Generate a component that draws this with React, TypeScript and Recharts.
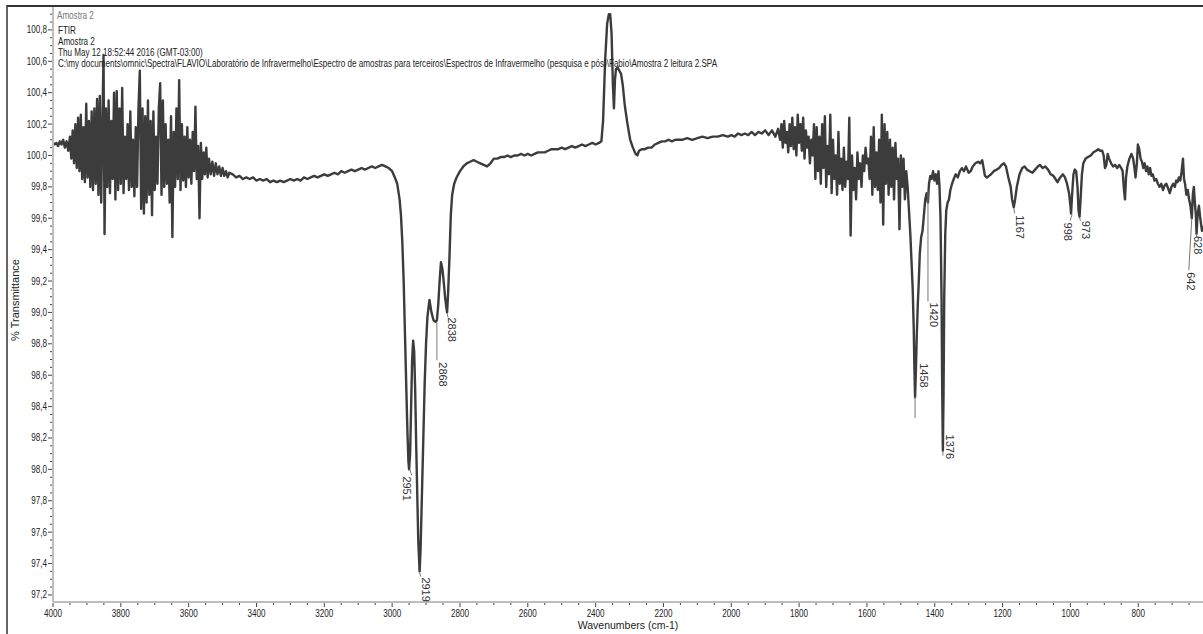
import React from "react";
import { LineChart, Line, XAxis, YAxis, ReferenceDot } from "recharts";

// FTIR spectrum as [wavenumber (cm-1), % transmittance]
const noisyHighRegion: [number, number][] = [
  [4000, 100.08], [3995, 100.07], [3990, 100.08], [3985, 100.06], [3980, 100.09], [3975, 100.07],
  [3970, 100.1], [3965, 100.05], [3960, 100.09], [3955, 100.03], [3950, 100.12], [3946, 99.98],
  [3942, 100.16], [3938, 99.95], [3934, 100.2], [3930, 99.92], [3926, 100.24], [3922, 99.9],
  [3918, 100.26], [3914, 99.85], [3910, 100.18], [3906, 99.83], [3902, 100.33], [3898, 99.86],
  [3894, 100.22], [3890, 99.8], [3886, 100.28], [3882, 99.78], [3878, 100.3], [3874, 99.82],
  [3870, 100.36], [3866, 99.75], [3862, 100.38], [3858, 99.7], [3854, 100.25], [3851, 100.64],
  [3848, 99.5], [3844, 100.3], [3840, 99.8], [3836, 100.35], [3832, 99.76], [3828, 100.22],
  [3824, 99.85], [3820, 100.4], [3816, 99.72], [3812, 100.41], [3808, 99.78], [3804, 100.3],
  [3800, 99.82], [3796, 100.43], [3792, 99.76], [3788, 100.12], [3784, 99.85], [3780, 100.2],
  [3776, 99.78], [3772, 100.28], [3768, 99.8], [3764, 100.1], [3760, 99.74], [3756, 100.18],
  [3752, 99.8], [3748, 100.3], [3744, 100.54], [3740, 99.66], [3736, 100.3], [3732, 99.63],
  [3728, 100.25], [3724, 99.7], [3720, 100.35], [3716, 99.75], [3712, 100.22], [3708, 99.62],
  [3704, 100.28], [3700, 99.78], [3696, 100.12], [3692, 99.82], [3688, 100.3], [3684, 100.46],
  [3680, 99.75], [3676, 100.35], [3672, 99.8], [3668, 100.2], [3664, 99.82], [3660, 100.1],
  [3656, 99.7], [3652, 100.25], [3648, 99.48], [3644, 100.15], [3640, 99.8], [3636, 100.3],
  [3632, 99.85], [3628, 100.48], [3624, 99.78], [3620, 100.2], [3616, 99.84], [3612, 100.12],
  [3608, 99.8], [3604, 100.18], [3600, 99.86], [3596, 100.1], [3592, 99.82], [3588, 100.15],
  [3584, 99.9], [3580, 100.31], [3576, 99.85], [3572, 100.06], [3568, 99.6], [3564, 100.08],
  [3560, 99.85], [3556, 100.02], [3552, 99.88], [3548, 100.05], [3544, 99.86], [3540, 99.98],
  [3535, 99.88], [3530, 99.96], [3525, 99.87], [3520, 99.95], [3515, 99.88], [3510, 99.93],
  [3505, 99.87], [3500, 99.92], [3495, 99.87], [3490, 99.9], [3485, 99.86], [3480, 99.89],
];

const baselineRegion: [number, number][] = [
  [3470, 99.88], [3460, 99.86], [3450, 99.87], [3440, 99.85], [3430, 99.86], [3420, 99.85],
  [3410, 99.86], [3400, 99.84], [3390, 99.85], [3380, 99.84], [3370, 99.85], [3360, 99.83],
  [3350, 99.84], [3340, 99.83], [3330, 99.84], [3320, 99.83], [3310, 99.84], [3300, 99.85],
  [3290, 99.84], [3280, 99.85], [3270, 99.84], [3260, 99.86], [3250, 99.85], [3240, 99.86],
  [3230, 99.87], [3220, 99.86], [3210, 99.87], [3200, 99.88], [3190, 99.87], [3180, 99.88],
  [3170, 99.89], [3160, 99.88], [3150, 99.9], [3140, 99.89], [3130, 99.9], [3120, 99.91],
  [3110, 99.9], [3100, 99.91], [3090, 99.92], [3080, 99.91], [3070, 99.92], [3060, 99.93],
  [3050, 99.92], [3040, 99.93], [3030, 99.94], [3020, 99.93], [3010, 99.92], [3000, 99.9],
  [2992, 99.86], [2985, 99.82], [2978, 99.72],
];

const chStretchRegion: [number, number][] = [
  [2974, 99.62], [2970, 99.45], [2966, 99.2], [2962, 98.85], [2958, 98.5], [2955, 98.25],
  [2952, 98.05], [2950, 98.0], [2947, 98.1], [2944, 98.4], [2941, 98.7], [2938, 98.82],
  [2935, 98.75], [2932, 98.5], [2929, 98.15], [2926, 97.85], [2923, 97.55], [2919, 97.35],
  [2916, 97.5], [2912, 97.85], [2908, 98.2], [2904, 98.55], [2900, 98.8], [2896, 98.97],
  [2890, 99.08], [2884, 99.0], [2878, 98.95], [2872, 98.94], [2868, 98.95], [2864, 99.05],
  [2860, 99.2], [2856, 99.32], [2852, 99.28], [2848, 99.2], [2844, 99.1], [2840, 99.03],
  [2838, 99.0], [2835, 99.12], [2831, 99.35], [2827, 99.62], [2823, 99.75], [2817, 99.82],
  [2810, 99.86], [2800, 99.9], [2790, 99.93], [2780, 99.95], [2770, 99.96], [2760, 99.97],
  [2750, 99.96], [2740, 99.95], [2730, 99.94], [2720, 99.93], [2710, 99.95], [2700, 99.98],
];

const co2Region: [number, number][] = [
  [2690, 99.98], [2680, 99.99], [2670, 99.99], [2660, 100.0], [2650, 99.99], [2640, 100.0],
  [2630, 100.0], [2620, 100.01], [2610, 100.0], [2600, 100.01], [2590, 100.0], [2580, 100.01],
  [2570, 100.02], [2560, 100.02], [2550, 100.02], [2540, 100.03], [2530, 100.04], [2520, 100.04],
  [2510, 100.04], [2500, 100.05], [2490, 100.04], [2480, 100.05], [2470, 100.06], [2460, 100.05],
  [2450, 100.06], [2440, 100.07], [2430, 100.06], [2420, 100.07], [2410, 100.08], [2400, 100.07],
  [2390, 100.08], [2383, 100.09], [2378, 100.22], [2372, 100.6], [2366, 100.84], [2361, 100.9],
  [2357, 100.9], [2353, 100.78], [2349, 100.45], [2346, 100.3], [2343, 100.48], [2340, 100.55],
  [2335, 100.56], [2330, 100.54], [2325, 100.52], [2320, 100.45], [2314, 100.32], [2306, 100.2],
  [2298, 100.1], [2290, 100.05], [2282, 100.01], [2277, 100.0], [2272, 100.03], [2264, 100.04],
  [2255, 100.04], [2245, 100.05], [2235, 100.05], [2225, 100.07], [2215, 100.08], [2205, 100.09],
  [2195, 100.09], [2185, 100.1], [2175, 100.09], [2165, 100.1], [2155, 100.1], [2145, 100.1],
  [2130, 100.11], [2115, 100.1], [2100, 100.11], [2085, 100.12], [2070, 100.11], [2055, 100.12],
  [2040, 100.12], [2025, 100.13], [2010, 100.12], [2000, 100.13], [1990, 100.12], [1980, 100.14],
  [1970, 100.13], [1960, 100.14], [1950, 100.13], [1940, 100.15], [1930, 100.13], [1920, 100.15],
  [1910, 100.14], [1900, 100.16], [1890, 100.13], [1880, 100.16], [1870, 100.12], [1862, 100.17],
];

const noisyMidRegion: [number, number][] = [
  [1856, 100.1], [1852, 100.2], [1848, 100.05], [1844, 100.22], [1840, 100.08], [1836, 100.15],
  [1832, 100.02], [1828, 100.2], [1824, 100.06], [1820, 100.24], [1816, 100.04], [1812, 100.18],
  [1808, 100.0], [1804, 100.26], [1800, 100.08], [1796, 100.2], [1792, 100.03], [1788, 100.24],
  [1784, 99.98], [1780, 100.16], [1776, 100.05], [1772, 100.12], [1768, 99.95], [1764, 100.1],
  [1760, 100.0], [1756, 100.2], [1752, 99.85], [1748, 100.18], [1744, 99.9], [1740, 100.12],
  [1736, 99.82], [1732, 100.2], [1728, 99.92], [1724, 100.25], [1720, 99.8], [1716, 100.06],
  [1712, 99.88], [1708, 100.26], [1704, 99.76], [1700, 100.1], [1696, 99.85], [1692, 100.0],
  [1688, 99.75], [1684, 100.15], [1680, 99.82], [1676, 99.98], [1672, 99.78], [1668, 100.05],
  [1664, 99.8], [1660, 99.96], [1656, 99.85], [1652, 100.24], [1648, 99.49], [1644, 100.0],
  [1640, 99.78], [1636, 99.92], [1632, 99.72], [1628, 100.02], [1624, 99.85], [1620, 99.95],
  [1616, 99.8], [1612, 100.0], [1608, 99.9], [1604, 100.05], [1600, 99.95], [1596, 99.98],
  [1592, 99.85], [1588, 100.12], [1584, 99.75], [1580, 100.18], [1576, 99.8], [1572, 100.02],
  [1568, 99.78], [1564, 100.1], [1560, 99.7], [1556, 100.26], [1552, 99.56], [1548, 100.2],
  [1544, 99.82], [1540, 100.15], [1536, 99.75], [1532, 100.1], [1528, 99.8], [1524, 100.05],
  [1520, 99.72], [1516, 100.08], [1512, 99.85], [1508, 99.98], [1504, 99.53], [1500, 100.0],
  [1496, 99.8], [1492, 99.98], [1488, 99.72], [1484, 99.9], [1480, 99.8],
];

const chBendRegion: [number, number][] = [
  [1476, 99.65], [1472, 99.5], [1468, 99.3], [1465, 99.15], [1462, 98.9], [1460, 98.65],
  [1458, 98.46], [1456, 98.6], [1453, 98.85], [1450, 99.05], [1447, 99.2], [1444, 99.38],
  [1440, 99.48], [1436, 99.52], [1432, 99.62], [1428, 99.72], [1424, 99.76], [1420, 99.7],
  [1417, 99.82], [1413, 99.87], [1409, 99.85], [1405, 99.9], [1401, 99.84], [1397, 99.88],
  [1393, 99.82], [1389, 99.9], [1386, 99.8], [1383, 99.6], [1380, 99.1], [1378, 98.5],
  [1376, 98.12], [1374, 98.5], [1372, 99.1], [1369, 99.5], [1366, 99.65], [1362, 99.7],
  [1358, 99.72], [1354, 99.78], [1349, 99.82], [1344, 99.85], [1338, 99.88], [1332, 99.86],
  [1326, 99.9], [1320, 99.92], [1314, 99.9], [1308, 99.93], [1300, 99.89], [1294, 99.9],
  [1288, 99.93], [1280, 99.95], [1272, 99.96], [1266, 99.95], [1260, 99.97], [1256, 99.92],
  [1252, 99.87], [1246, 99.86], [1240, 99.87], [1234, 99.88], [1226, 99.9],
];

const fingerprintRegion: [number, number][] = [
  [1217, 99.91], [1210, 99.92], [1203, 99.94], [1196, 99.95], [1190, 99.93], [1183, 99.86],
  [1176, 99.8], [1172, 99.72], [1167, 99.67], [1163, 99.72], [1158, 99.8], [1150, 99.88],
  [1142, 99.92], [1135, 99.93], [1128, 99.91], [1120, 99.9], [1112, 99.89], [1104, 99.91],
  [1096, 99.93], [1090, 99.94], [1082, 99.92], [1074, 99.93], [1066, 99.91], [1058, 99.88],
  [1050, 99.87], [1044, 99.85], [1038, 99.83], [1030, 99.86], [1022, 99.88], [1016, 99.86],
  [1010, 99.82], [1004, 99.76], [1000, 99.68], [998, 99.63], [995, 99.75], [991, 99.88],
  [987, 99.91], [983, 99.9], [979, 99.8], [976, 99.65], [973, 99.61], [970, 99.72],
  [966, 99.88], [962, 99.95], [955, 99.98], [948, 99.99], [940, 100.0], [932, 100.02],
  [924, 100.03], [918, 100.04], [912, 100.03], [906, 100.03], [902, 100.0], [898, 99.92],
  [894, 99.94], [890, 100.01], [886, 99.98], [880, 99.95], [874, 99.93], [868, 99.94],
  [862, 99.92], [856, 99.94], [850, 99.92], [846, 99.9], [842, 99.78], [839, 99.72],
  [836, 99.86], [832, 99.93], [826, 99.98], [820, 100.01], [815, 99.98], [811, 99.92],
  [808, 99.86], [804, 99.95], [801, 100.07], [797, 100.04], [793, 99.98], [789, 99.96],
  [785, 99.92], [781, 99.95], [777, 99.9], [773, 99.93], [769, 99.88], [765, 99.92],
  [761, 99.87], [757, 99.88], [752, 99.84], [747, 99.85], [742, 99.82], [737, 99.8],
  [732, 99.82], [727, 99.78], [722, 99.81], [717, 99.82], [712, 99.79], [707, 99.76],
  [702, 99.8], [697, 99.82], [692, 99.8], [688, 99.84], [684, 99.83], [680, 99.86],
  [676, 99.84], [672, 99.9], [668, 99.98], [665, 99.85], [662, 99.82], [658, 99.75],
  [654, 99.78], [650, 99.72], [646, 99.68], [642, 99.6], [639, 99.75], [636, 99.8],
  [633, 99.7], [630, 99.62], [628, 99.5], [625, 99.62], [621, 99.68], [617, 99.6],
  [612, 99.52], [609, 99.55],
];

// labelled peaks
const peakWavenumbers = [2951, 2919, 2868, 2838, 1458, 1420, 1376, 1167, 998, 973, 642, 628];
const peakTransmittance = [98.0, 97.35, 98.95, 99.0, 98.46, 99.7, 98.12, 99.67, 99.63, 99.61, 99.6, 99.5];

const xMajorTicks = [4000, 3800, 3600, 3400, 3200, 3000, 2800, 2600, 2400, 2200, 2000, 1800, 1600, 1400, 1200, 1000, 800];
const yMajorTicks = [97.2, 97.4, 97.6, 97.8, 98.0, 98.2, 98.4, 98.6, 98.8, 99.0, 99.2, 99.4, 99.6, 99.8, 100.0, 100.2, 100.4, 100.6, 100.8];

const headerLines = [
  "FTIR",
  "Amostra 2",
  "Thu May 12 18:52:44 2016 (GMT-03:00)",
  "C:\\my documents\\omnic\\Spectra\\FLAVIO\\Laboratório de Infravermelho\\Espectro de amostras para terceiros\\Espectros de Infravermelho (pesquisa e pós)\\Fabio\\Amostra 2 leitura 2.SPA",
];

const spectrum = [
  ...noisyHighRegion,
  ...baselineRegion,
  ...chStretchRegion,
  ...co2Region,
  ...noisyMidRegion,
  ...chBendRegion,
  ...fingerprintRegion,
].map(([wn, t]) => ({ wn, t }));

const xTicks = [...xMajorTicks, ...xMajorTicks.flatMap((v) => [v - 50, v - 100, v - 150])].filter((v) => v >= 610);
const yTicks = [...yMajorTicks, ...yMajorTicks.flatMap((v) => [v + 0.05, v + 0.1, v + 0.15])];

const FONT = "'Liberation Sans', Arial, sans-serif";
const SQUEEZE = 0.81;
const AXIS_GREY = "#bdbdbd";
const TICK_DARK = "#444";

// label placement relative to the peak: lead line (x1,y1,x2,y2) and text start
const labelLayout: Record<number, { line: [number, number, number, number]; text: [number, number] }> = {
  2951: { line: [1, 0, 3, 6], text: [-2, 7] },
  2919: { line: [0, 1, 1, 5], text: [6, 6] },
  2868: { line: [0, 2, 0, 40], text: [6, 42] },
  2838: { line: [0, 1, 1, 5], text: [5, 5] },
  1458: { line: [0, 0, 0, 21], text: [9, -34] },
  1420: { line: [0, -12, 0, 99], text: [6, 100] },
  1376: { line: [0, 0, 0, 5], text: [7, -16] },
  1167: { line: [0, 1, 1, 6], text: [6, 8] },
  998: { line: [1, 1, -1, 7], text: [-3, 9] },
  973: { line: [0, 1, 1, 4], text: [6, 4] },
  642: { line: [0, 0, -3, 52], text: [-1, 54] },
  628: { line: [0, 0, 0, 3], text: [1.5, 2] },
};

const isMajor = (v: number, step: number) => Math.abs(v / step - Math.round(v / step)) < 1e-6;

const XTick = (props: any) => {
  const { x, y, payload } = props;
  const major = isMajor(payload.value, 200);
  return (
    <g>
      <line x1={x} x2={x} y1={y + 1} y2={y + (major ? 5 : 3)} stroke={TICK_DARK} strokeWidth={1} />
      {major && (
        <g transform={`translate(${x},${y + 15}) scale(${SQUEEZE},1)`}>
          <text textAnchor="middle" fontSize={10} fontFamily={FONT} fill="#222">
            {payload.value}
          </text>
        </g>
      )}
    </g>
  );
};

const YTick = (props: any) => {
  const { x, y, payload } = props;
  const major = isMajor(payload.value, 0.2);
  return (
    <g>
      <line x1={x - 1} x2={x - (major ? 5 : 3)} y1={y} y2={y} stroke={TICK_DARK} strokeWidth={1} />
      {major && (
        <g transform={`translate(${x - 6},${y + 3.5}) scale(${SQUEEZE},1)`}>
          <text textAnchor="end" fontSize={10} fontFamily={FONT} fill="#222">
            {payload.value.toFixed(1).replace(".", ",")}
          </text>
        </g>
      )}
    </g>
  );
};

const peakShape = (wn: number) => (props: any) => {
  const { cx, cy } = props;
  const l = labelLayout[wn];
  const tx = cx + l.text[0];
  const ty = cy + l.text[1];
  return (
    <g>
      <line x1={cx + l.line[0]} y1={cy + l.line[1]} x2={cx + l.line[2]} y2={cy + l.line[3]} stroke="#777" strokeWidth={1} />
      <text
        x={tx}
        y={ty}
        transform={`rotate(90 ${tx} ${ty})`}
        fontSize={11}
        fontFamily={FONT}
        fill="#333"
        dominantBaseline="central"
      >
        {wn}
      </text>
    </g>
  );
};

export default function App() {
  return (
    <div style={{ position: "relative", width: 1203, height: 634, background: "#fff" }}>
      <style>{`body{margin:0}`}</style>
      <LineChart width={1203} height={634} data={spectrum} margin={{ top: 7, right: 0, bottom: 0, left: 0 }}>
        <XAxis
          dataKey="wn"
          type="number"
          reversed
          domain={[609, 4000]}
          allowDataOverflow
          ticks={xTicks}
          interval={0}
          height={32}
          tickSize={0}
          tickMargin={0}
          tick={<XTick />}
          axisLine={{ stroke: AXIS_GREY, strokeWidth: 2 }}
        />
        <YAxis
          type="number"
          domain={[97.155, 100.946]}
          allowDataOverflow
          ticks={yTicks}
          interval={0}
          width={53}
          tickSize={0}
          tickMargin={0}
          tick={<YTick />}
          axisLine={{ stroke: AXIS_GREY, strokeWidth: 2 }}
        />
        <Line
          type="linear"
          dataKey="t"
          stroke="#3c3c3c"
          strokeWidth={2.4}
          strokeLinejoin="round"
          dot={false}
          isAnimationActive={false}
        />
        {peakWavenumbers.map((wn, i) => (
          <ReferenceDot
            key={wn}
            x={wn}
            y={peakTransmittance[i]}
            r={2}
            ifOverflow="visible"
            shape={peakShape(wn)}
          />
        ))}
      </LineChart>
      <svg
        width={1203}
        height={634}
        style={{ position: "absolute", left: 0, top: 0, pointerEvents: "none" }}
        fontFamily={FONT}
      >
        <line x1={7} y1={6} x2={1203} y2={6} stroke="#333" strokeWidth={2} />
        <line x1={7} y1={5} x2={7} y2={634} stroke="#333" strokeWidth={1.5} />
        <g transform={`translate(57,19) scale(${SQUEEZE},1)`}>
          <text fontSize={10} fill="#777">Amostra 2</text>
        </g>
        {headerLines.map((line, i) => (
          <g key={i} transform={`translate(58,${33.5 + i * 11}) scale(${SQUEEZE},1)`}>
            <text fontSize={10} fill="#222">{line}</text>
          </g>
        ))}
        <text
          x={15}
          y={300}
          transform="rotate(-90 15 300)"
          textAnchor="middle"
          fontSize={11}
          fill="#222"
          dominantBaseline="central"
        >
          % Transmittance
        </text>
        <text x={628} y={629} textAnchor="middle" fontSize={10.5} fill="#222">
          Wavenumbers (cm-1)
        </text>
      </svg>
    </div>
  );
}
